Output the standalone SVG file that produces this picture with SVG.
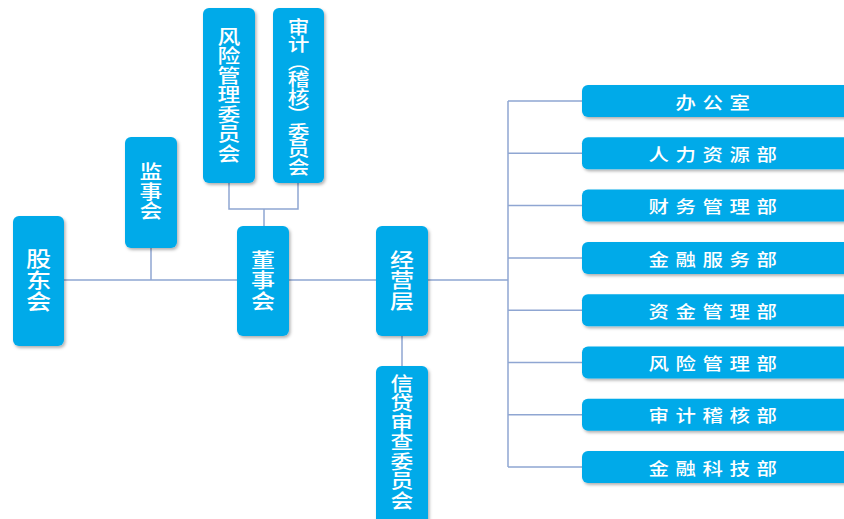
<svg xmlns="http://www.w3.org/2000/svg" width="844" height="519" viewBox="0 0 844 519">
<defs>
<filter id="sh" x="-20%" y="-20%" width="140%" height="140%">
<feDropShadow dx="1.5" dy="2" stdDeviation="1.5" flood-color="#000" flood-opacity="0.3"/>
</filter>
<style>
.box{fill:#06AAE9;filter:url(#sh)}
.conn{fill:none;stroke:#8FA6D2;stroke-width:1.5}
.vt{font-family:"Noto Sans CJK SC","Noto Sans",sans-serif;font-weight:500;fill:#fff;writing-mode:vertical-rl;text-anchor:middle}
.ht{font-family:"Noto Sans CJK SC","Noto Sans",sans-serif;font-weight:500;fill:#fff;text-anchor:middle;dominant-baseline:central;font-size:17px;letter-spacing:5.5px}
</style>
</defs>
<rect width="844" height="519" fill="#fff"/>
<g id="connectors">
<path class="conn" d="M64,280H237M289,280H376M428,280H508"/>
<path class="conn" d="M151,248V280"/>
<path class="conn" d="M229,183V209H298V183M264,209V226"/>
<path class="conn" d="M402,336V366"/>
<path class="conn" d="M508,101V467.1"/>
<path class="conn" d="M508,101H582M508,153.3H582M508,205.6H582M508,257.9H582M508,310.2H582M508,362.5H582M508,414.8H582M508,467.1H582"/>
</g>
<g id="gudonghui">
<rect class="box" x="13" y="216" width="51" height="130" rx="6"/>
<text class="vt" transform="translate(38.5,280) scale(1.2,1)" style="font-size:21px;letter-spacing:0.5px">股东会</text>
</g>
<g id="jianshihui">
<rect class="box" x="125" y="137" width="52" height="111" rx="6"/>
<text class="vt" transform="translate(151,192) scale(1.2,1)" style="font-size:19px;letter-spacing:0.5px">监事会</text>
</g>
<g id="fengxianweiyuanhui">
<rect class="box" x="203" y="8" width="52" height="175" rx="6"/>
<text class="vt" transform="translate(229,95.5) scale(1.2,1)" style="font-size:19px;letter-spacing:0.5px">风险管理委员会</text>
</g>
<g id="shenjiweiyuanhui">
<rect class="box" x="273" y="8" width="51" height="175" rx="6"/>
<text class="vt" transform="translate(298.5,96.5) scale(1.2,1)" style="font-size:18px;letter-spacing:-0.5px">审计（稽核）委员会</text>
</g>
<g id="dongshihui">
<rect class="box" x="237" y="226" width="52" height="110" rx="6"/>
<text class="vt" transform="translate(263,281) scale(1.2,1)" style="font-size:20px;letter-spacing:0.5px">董事会</text>
</g>
<g id="jingyingceng">
<rect class="box" x="376" y="226" width="52" height="110" rx="6"/>
<text class="vt" transform="translate(402,281) scale(1.2,1)" style="font-size:20px;letter-spacing:0.5px">经营层</text>
</g>
<g id="xindaiweiyuanhui">
<rect class="box" x="376" y="366" width="52" height="165" rx="6"/>
<text class="vt" transform="translate(402,442.5) scale(1.2,1)" style="font-size:19px;letter-spacing:0.5px">信贷审查委员会</text>
</g>
<g id="bangongshi">
<rect class="box" x="582" y="85" width="280" height="32" rx="6"/>
<text class="ht" transform="translate(716,101) scale(1.2,1)">办公室</text>
</g>
<g id="renliziyuanbu">
<rect class="box" x="582" y="137.3" width="280" height="32" rx="6"/>
<text class="ht" transform="translate(716,153.3) scale(1.2,1)">人力资源部</text>
</g>
<g id="caiwuguanlibu">
<rect class="box" x="582" y="189.6" width="280" height="32" rx="6"/>
<text class="ht" transform="translate(716,205.6) scale(1.2,1)">财务管理部</text>
</g>
<g id="jinrongfuwubu">
<rect class="box" x="582" y="241.9" width="280" height="32" rx="6"/>
<text class="ht" transform="translate(716,257.9) scale(1.2,1)">金融服务部</text>
</g>
<g id="zijinguanlibu">
<rect class="box" x="582" y="294.2" width="280" height="32" rx="6"/>
<text class="ht" transform="translate(716,310.2) scale(1.2,1)">资金管理部</text>
</g>
<g id="fengxianguanlibu">
<rect class="box" x="582" y="346.5" width="280" height="32" rx="6"/>
<text class="ht" transform="translate(716,362.5) scale(1.2,1)">风险管理部</text>
</g>
<g id="shenjijihebu">
<rect class="box" x="582" y="398.8" width="280" height="32" rx="6"/>
<text class="ht" transform="translate(716,414.8) scale(1.2,1)">审计稽核部</text>
</g>
<g id="jinrongkejibu">
<rect class="box" x="582" y="451.1" width="280" height="32" rx="6"/>
<text class="ht" transform="translate(716,467.1) scale(1.2,1)">金融科技部</text>
</g>
</svg>
